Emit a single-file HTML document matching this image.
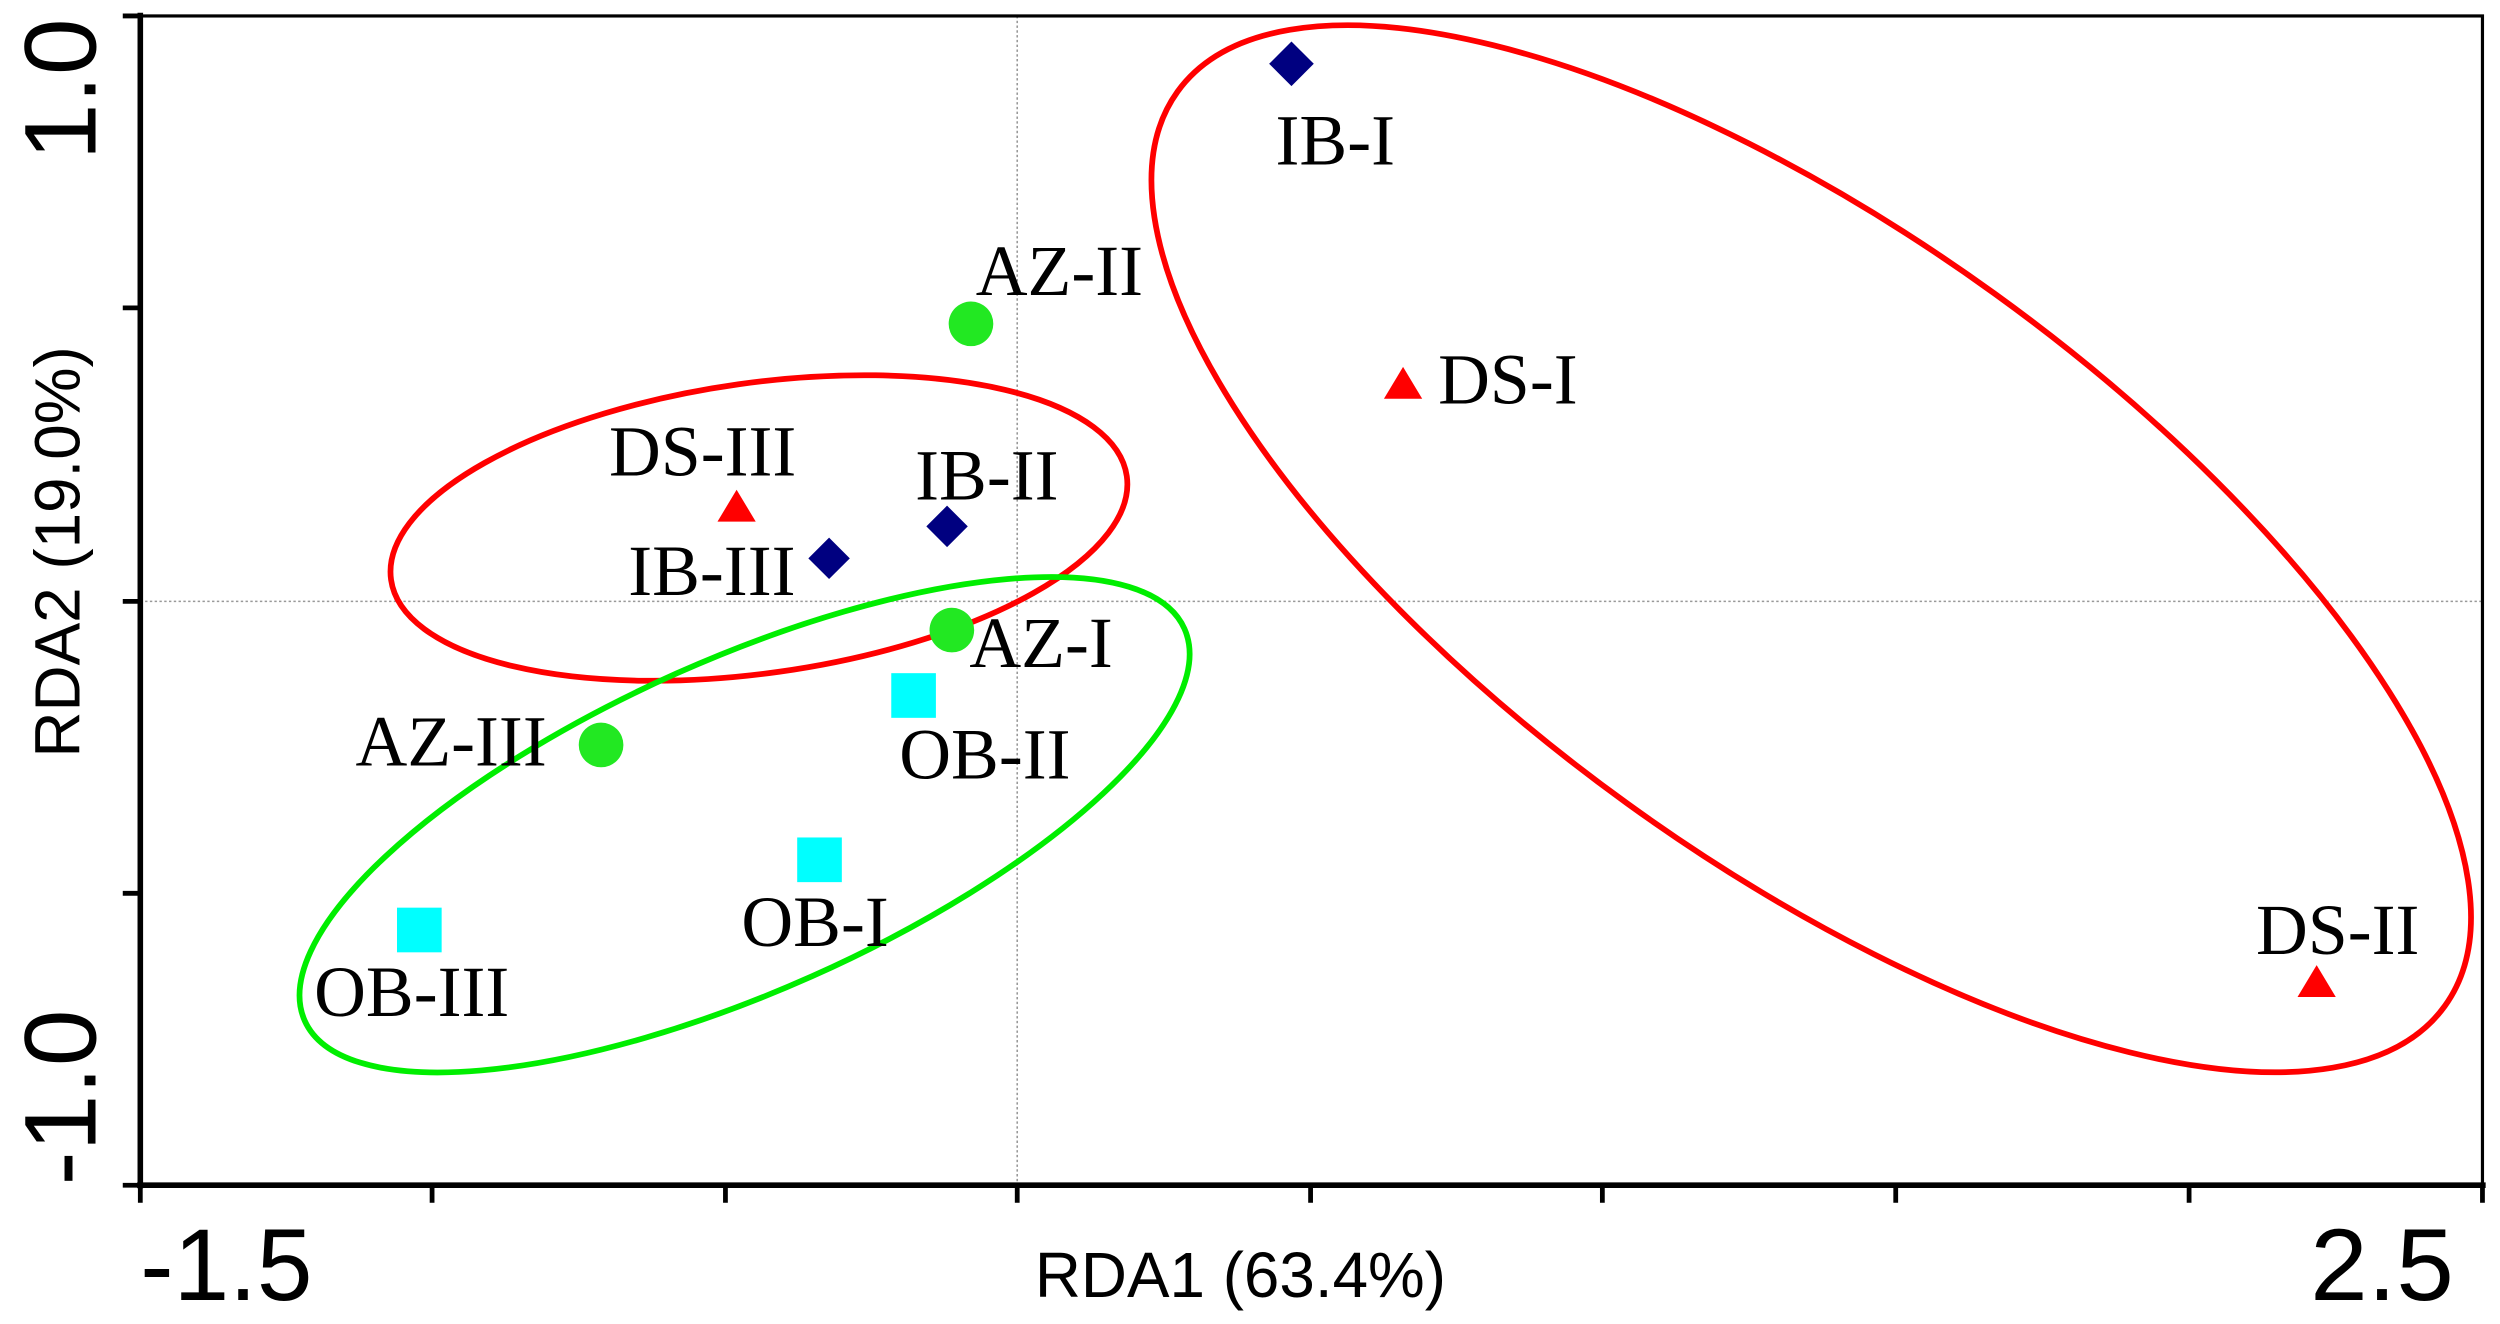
<!DOCTYPE html>
<html><head><meta charset="utf-8"><style>html,body{margin:0;padding:0;background:#fff;}svg{display:block}</style></head>
<body>
<svg width="2500" height="1324" viewBox="0 0 1568 830" preserveAspectRatio="none" xmlns="http://www.w3.org/2000/svg">
<rect width="1568" height="830" fill="#fff"/>
<line x1="638" y1="10" x2="638" y2="743" stroke="#999" stroke-width="1" stroke-dasharray="1.5,1.5"/>
<line x1="88" y1="377" x2="1557" y2="377" stroke="#999" stroke-width="1" stroke-dasharray="1.5,1.5"/>
<rect x="88" y="10" width="1469" height="733" fill="none" stroke="#000" stroke-width="2"/>
<line x1="88" y1="8" x2="88" y2="745" stroke="#000" stroke-width="3.5"/>
<line x1="86" y1="743" x2="1559" y2="743" stroke="#000" stroke-width="3.5"/>
<g stroke="#000" stroke-width="3">
<line x1="88" y1="743" x2="88" y2="754"/><line x1="271" y1="743" x2="271" y2="754"/><line x1="455" y1="743" x2="455" y2="754"/><line x1="638" y1="743" x2="638" y2="754"/><line x1="822" y1="743" x2="822" y2="754"/><line x1="1005" y1="743" x2="1005" y2="754"/><line x1="1189" y1="743" x2="1189" y2="754"/><line x1="1373" y1="743" x2="1373" y2="754"/><line x1="1557" y1="743" x2="1557" y2="754"/>
<line x1="77" y1="10" x2="88" y2="10"/><line x1="77" y1="193" x2="88" y2="193"/><line x1="77" y1="377" x2="88" y2="377"/><line x1="77" y1="560" x2="88" y2="560"/><line x1="77" y1="743" x2="88" y2="743"/>
</g>
<ellipse cx="1136" cy="344" rx="490" ry="197" transform="rotate(35.8 1136 344)" fill="none" stroke="#ff0000" stroke-width="3.6"/>
<ellipse cx="476" cy="331" rx="233" ry="91" transform="rotate(-8 476 331)" fill="none" stroke="#ff0000" stroke-width="3.6"/>
<ellipse cx="467" cy="517" rx="302" ry="104" transform="rotate(-24 467 517)" fill="none" stroke="#00ee00" stroke-width="3.6"/>
<g fill="#000080">
<polygon points="810,26 824,40 810,54 796,40"/>
<polygon points="594,317 607,330 594,343 581,330"/>
<polygon points="520,337 533,350 520,363 507,350"/>
</g>
<g fill="#ff0000">
<polygon points="880,230 892,250 868,250"/>
<polygon points="462,307 474,327 450,327"/>
<polygon points="1453,605 1465,625 1441,625"/>
</g>
<g fill="#22e822">
<circle cx="609" cy="203" r="14"/><circle cx="597" cy="395" r="14"/><circle cx="377" cy="467" r="14"/>
</g>
<g fill="#00ffff">
<rect x="559" y="422" width="28" height="28"/><rect x="500" y="525" width="28" height="28"/><rect x="249" y="569" width="28" height="28"/>
</g>
<g font-family="'Liberation Serif', serif" font-size="45" fill="#000">
<text x="800" y="103">IB-I</text>
<text x="902" y="253">DS-I</text>
<text x="612" y="185">AZ-II</text>
<text x="382" y="298">DS-III</text>
<text x="574" y="313">IB-II</text>
<text x="394" y="373">IB-III</text>
<text x="608" y="418">AZ-I</text>
<text x="564" y="488">OB-II</text>
<text x="223" y="480">AZ-III</text>
<text x="465" y="593">OB-I</text>
<text x="197" y="637">OB-III</text>
<text x="1415" y="598">DS-II</text>
</g>
<g font-family="'Liberation Sans', sans-serif" fill="#000">
<text x="778" y="813" font-size="40" text-anchor="middle">RDA1 (63.4%)</text>
<text transform="translate(50,346) rotate(-90)" font-size="40" text-anchor="middle">RDA2 (19.0%)</text>
<text x="88" y="815" font-size="64" textLength="108" lengthAdjust="spacingAndGlyphs">-1.5</text>
<text x="1449" y="815" font-size="64" textLength="90" lengthAdjust="spacingAndGlyphs">2.5</text>
<text transform="translate(60,56) rotate(-90)" font-size="64" text-anchor="middle">1.0</text>
<text transform="translate(60,688) rotate(-90)" font-size="64" text-anchor="middle">-1.0</text>
</g>
</svg>
</body></html>
